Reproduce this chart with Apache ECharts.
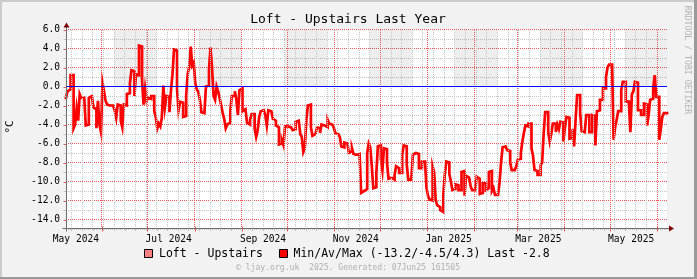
<!DOCTYPE html>
<html><head><meta charset="utf-8">
<script src="https://cdn.jsdelivr.net/npm/echarts@6/dist/echarts.min.js"></script>
<style>html,body{margin:0;padding:0;background:#f2f2f2}#c{width:697px;height:279px}</style>
</head><body><div id="c"></div>
<script>
const titleText = 'Loft - Upstairs Last Year';
const yUnit = '°C';
const watermark = 'RRDTOOL / TOBI OETIKER';
const footerText = '© ljay.org.uk  2025. Generated: 07Jun25 161505';
const legendNames = ['Loft - Upstairs', 'Min/Av/Max (-13.2/-4.5/4.3) Last -2.8'];
const yMin = -15, yMax = 6;
const hrule = 0;
const startTime = '2024-05-08T12:00:00Z';
const endTime = '2025-06-07T14:00:00Z';
const xLabelDates = ['2024-05-15','2024-07-15','2024-09-15','2024-11-15','2025-01-15','2025-03-15','2025-05-15'];
const xLabelTexts = ['May 2024','Jul 2024','Sep 2024','Nov 2024','Jan 2025','Mar 2025','May 2025'];
const monthStarts = ['2024-06-01','2024-07-01','2024-08-01','2024-09-01','2024-10-01','2024-11-01','2024-12-01','2025-01-01','2025-02-01','2025-03-01','2025-04-01','2025-05-01','2025-06-01'];
const firstWeekLine = '2024-05-12';
const shadeStarts = ['2024-06-09','2024-08-04','2024-09-29','2024-11-24','2025-01-19','2025-03-16','2025-05-11'];
// daily temperatures (°C), one per day from startTime
const temps = [
-1.2,-0.5,-0.3,1.2,1.2,-4.4,-4.0,-2.3,-3.6,-0.8,
-1.2,-1.2,-1.2,-4.1,-4.0,-1.2,-1.0,-1.1,-2.2,-2.4,
-4.4,-1.5,-4.0,-4.8,0.4,-0.5,-1.5,-1.9,-2.0,-1.9,
-2.0,-1.9,-2.5,-3.3,-1.9,-2.0,-3.6,-4.3,-1.9,-2.0,
-0.8,-0.7,0.3,1.7,1.6,-1.0,1.3,1.2,4.3,4.2,
0.6,-1.9,-0.2,-1.5,-1.2,-1.3,-1.0,-1.0,-2.6,-3.2,
-4.4,-3.9,-4.2,-3.3,0.1,-2.2,-1.0,-1.1,-2.7,-0.4,
1.3,3.9,3.8,-0.3,-2.5,-1.6,-1.7,-3.2,-3.1,-0.9,
1.3,2.1,4.2,2.2,2.5,0.3,-0.3,-0.6,-1.4,-2.7,
-2.8,-2.8,0.0,0.1,1.8,4.1,2.0,-1.0,-1.4,0.0,
-0.5,-1.2,-2.0,-2.8,-3.4,-4.4,-4.0,-3.8,-2.6,-1.0,
-1.0,-0.5,-1.4,-3.0,-0.4,-0.2,-2.6,-2.4,-2.4,-3.8,
-4.0,-3.5,-2.9,-2.9,-4.4,-5.3,-4.6,-3.2,-2.6,-2.5,
-2.4,-3.0,-4.1,-2.5,-2.6,-2.5,-3.4,-3.6,-4.1,-4.3,
-6.1,-6.0,-5.7,-6.2,-4.2,-4.2,-4.3,-4.3,-4.4,-4.6,
-4.5,-3.7,-3.6,-3.7,-5.0,-5.3,-6.9,-6.5,-3.5,-2.0,
-1.9,-4.3,-5.2,-5.0,-5.1,-4.3,-4.4,-4.9,-4.0,-4.1,
-4.3,-4.3,-3.5,-3.9,-4.0,-4.2,-4.3,-4.9,-5.0,-5.2,
-5.3,-6.3,-6.4,-5.9,-6.0,-6.1,-7.0,-6.8,-6.5,-7.1,
-7.2,-7.2,-7.1,-7.2,-11.2,-11.0,-10.9,-10.8,-7.0,-6.0,
-6.4,-8.3,-10.7,-10.6,-9.2,-6.3,-6.2,-7.6,-8.8,-6.5,
-6.6,-8.0,-9.7,-9.6,-9.7,-9.8,-9.3,-8.4,-8.6,-9.1,
-9.1,-7.2,-6.2,-6.3,-8.2,-9.8,-9.8,-9.7,-7.2,-7.0,
-7.0,-7.1,-8.6,-8.6,-7.9,-7.9,-8.1,-10.7,-11.5,-11.9,
-12.0,-8.4,-9.0,-11.9,-12.5,-12.7,-13.0,-13.2,-11.5,-9.3,
-7.9,-8.0,-9.2,-10.0,-10.9,-10.8,-10.3,-10.4,-10.9,-10.9,
-9.0,-8.9,-11.5,-9.4,-9.6,-9.8,-10.5,-10.9,-10.9,-10.8,
-9.5,-9.7,-11.3,-11.2,-10.2,-10.2,-10.9,-10.7,-9.0,-8.9,
-11.0,-10.7,-11.4,-11.4,-11.3,-10.1,-8.0,-6.4,-6.3,-6.3,
-6.7,-6.8,-8.0,-8.8,-8.8,-8.6,-8.4,-7.7,-7.6,-7.0,
-5.8,-4.9,-4.1,-4.2,-3.9,-3.9,-6.5,-7.3,-8.8,-8.9,
-9.3,-9.3,-8.3,-8.0,-5.0,-2.7,-2.7,-4.8,-5.8,-5.0,
-3.9,-3.9,-4.8,-4.0,-4.5,-3.7,-3.8,-5.8,-4.3,-3.2,
-3.3,-5.5,-5.4,-4.5,-6.3,-3.5,-0.9,-0.9,-2.8,-4.7,
-4.8,-4.8,-3.0,-3.0,-4.8,-4.8,-3.0,-3.1,-6.2,-2.6,
-2.5,-1.4,-1.4,-0.2,-0.2,1.0,2.0,2.3,2.3,2.2,
-5.6,-4.3,-3.5,-2.6,-2.6,-0.4,0.5,0.5,-1.6,-1.6,
-1.5,-4.8,-0.8,-0.5,0.5,0.4,-2.5,-2.5,-3.0,-3.0,
-1.8,-1.9,-4.1,-3.0,-1.4,-1.3,-0.2,1.2,-1.1,-1.1,
-5.6,-4.5,-3.2,-2.8,-2.8
];

const DAY = 86400000;
const t0 = Date.parse(startTime), t1 = Date.parse(endTime);
const ts = s => Date.parse(s + 'T00:00:00Z');
const lineData = temps.map((v, i) => [t0 + i * DAY, v]);
lineData.push([t1, temps[temps.length - 1]]);

const weekLines = [];
for (let t = ts(firstWeekLine); t < t1; t += 7 * DAY) weekLines.push(t);
const monthLines = monthStarts.map(ts);
const labelVals = xLabelDates.map(ts);
const shadeAreas = shadeStarts.map(s => [
  { xAxis: ts(s), yAxis: hrule },
  { xAxis: Math.min(ts(s) + 28 * DAY, t1), yAxis: yMax }
]);

const MONO = '"DejaVu Sans Mono", "Liberation Mono", monospace';
const gray = '#c4c4c4', red = '#e85a5a';

const chart = echarts.init(document.getElementById('c'), null, { renderer: 'canvas' });
const vLine = (t, color) => ({ xAxis: t, lineStyle: { color, width: 1, type: [1, 1] } });

chart.setOption({
  animation: false,
  backgroundColor: '#f2f2f2',
  grid: { left: 66, right: 30, top: 29.5, bottom: 50, show: true, backgroundColor: '#ffffff', borderWidth: 0 },
  xAxis: {
    type: 'value', min: t0, max: t1,
    axisLine: { show: false }, axisTick: { show: false }, splitLine: { show: false },
    axisLabel: {
      customValues: labelVals,
      formatter: v => { const i = labelVals.indexOf(v); return i >= 0 ? xLabelTexts[i] : ''; },
      fontFamily: MONO, fontSize: 9.6, color: '#000', margin: 5
    }
  },
  yAxis: {
    type: 'value', min: yMin, max: yMax, interval: 1,
    axisLine: { show: false }, axisTick: { show: false },
    splitLine: { show: true, lineStyle: { color: [gray, red], width: 1, type: [1, 1] } },
    axisLabel: {
      formatter: v => (Math.round(v) % 2 === 0 ? v.toFixed(1) : ''),
      fontFamily: MONO, fontSize: 9.6, color: '#000', margin: 6
    }
  },
  series: [
    {
      type: 'line', data: [], z: 1, silent: true,
      markArea: { silent: true, itemStyle: { color: 'rgba(0,0,0,0.065)' }, data: shadeAreas },
      markLine: {
        silent: true, symbol: 'none', label: { show: false }, animation: false,
        data: weekLines.map(t => vLine(t, gray)).concat(monthLines.map(t => vLine(t, red)))
      }
    },
    {
      name: legendNames[1], type: 'line', step: 'end', data: lineData, z: 3,
      symbol: 'none', showSymbol: false, silent: true,
      lineStyle: { color: '#ff0000', width: 2.7, join: 'miter', cap: 'square' }
    }
  ]
});

function px(x, y) { return chart.convertToPixel({ gridIndex: 0 }, [x, y]); }
const [gx0, gy0] = px(t0, yMin);
const [gx1, gy1] = px(t1, yMax);
const ax = Math.round(gx0) + 0.5, ay = Math.round(gy0) - 0.5;
const zy = Math.floor(px(t0, hrule)[1]) + 0.5;
const axisColor = '#6e6e6e', arrowColor = '#7f0000';
const g = [];
// frame shading
g.push({ type: 'rect', shape: { x: 0, y: 0, width: 697, height: 2 }, style: { fill: '#cbcbcb' } });
g.push({ type: 'rect', shape: { x: 0, y: 0, width: 2, height: 279 }, style: { fill: '#cbcbcb' } });
g.push({ type: 'rect', shape: { x: 0, y: 277, width: 697, height: 2 }, style: { fill: '#9a9a9a' } });
g.push({ type: 'rect', shape: { x: 694, y: 0, width: 3, height: 279 }, style: { fill: '#9a9a9a' } });
// HRULE at 0
g.push({ type: 'line', z: 101, shape: { x1: ax, y1: zy, x2: Math.round(gx1), y2: zy }, style: { stroke: '#0000ff', lineWidth: 1 } });
// ticks
for (const t of weekLines) {
  const x = Math.round(px(t, 0)[0]) + 0.5;
  g.push({ type: 'line', shape: { x1: x, y1: ay, x2: x, y2: ay + 2.5 }, style: { stroke: gray, lineWidth: 1 } });
}
for (const t of monthLines) {
  const x = Math.round(px(t, 0)[0]) + 0.5;
  g.push({ type: 'line', shape: { x1: x, y1: ay - 2, x2: x, y2: ay + 3 }, style: { stroke: red, lineWidth: 1 } });
}
for (let v = yMin + 1; v <= yMax; v++) {
  const y = Math.round(px(t0, v)[1]) + 0.5;
  g.push({ type: 'line', shape: { x1: ax - 3, y1: y, x2: ax, y2: y }, style: { stroke: v % 2 === 0 ? red : gray, lineWidth: 1 } });
}
// axes
g.push({ type: 'line', shape: { x1: ax - 4, y1: ay, x2: gx1 + 3, y2: ay }, style: { stroke: axisColor, lineWidth: 1 } });
g.push({ type: 'line', shape: { x1: ax, y1: ay + 3, x2: ax, y2: gy1 - 3 }, style: { stroke: axisColor, lineWidth: 1 } });
g.push({ type: 'polygon', shape: { points: [[gx1 + 2, ay - 3], [gx1 + 7, ay], [gx1 + 2, ay + 3]] }, style: { fill: arrowColor } });
g.push({ type: 'polygon', shape: { points: [[ax - 3, gy1 - 2], [ax, gy1 - 7], [ax + 3, gy1 - 2]] }, style: { fill: arrowColor } });
// texts
g.push({ type: 'text', x: 348, y: 19.5, style: { text: titleText, font: '13px ' + MONO, fill: '#000', align: 'center', verticalAlign: 'middle' } });
g.push({ type: 'text', x: 10, y: 127, rotation: Math.PI / 2, style: { text: yUnit, font: '11px ' + MONO, fill: '#000', align: 'center', verticalAlign: 'middle' } });
g.push({ type: 'text', x: 687, y: 60, rotation: -Math.PI / 2, style: { text: watermark, font: '8.2px ' + MONO, fill: '#b4b4b4', align: 'center', verticalAlign: 'middle' } });
g.push({ type: 'rect', shape: { x: 144.5, y: 249.5, width: 8, height: 8 }, style: { fill: '#ff8080', stroke: '#000', lineWidth: 1 } });
g.push({ type: 'text', x: 159, y: 254, style: { text: legendNames[0], font: '11.5px ' + MONO, fill: '#000', align: 'left', verticalAlign: 'middle' } });
g.push({ type: 'rect', shape: { x: 279.5, y: 249.5, width: 8, height: 8 }, style: { fill: '#ff0000', stroke: '#000', lineWidth: 1 } });
g.push({ type: 'text', x: 293.5, y: 254, style: { text: legendNames[1], font: '11.5px ' + MONO, fill: '#000', align: 'left', verticalAlign: 'middle' } });
g.push({ type: 'text', x: 348, y: 268, style: { text: footerText, font: '8.1px ' + MONO, fill: '#b0b0b0', align: 'center', verticalAlign: 'middle' } });
chart.setOption({ graphic: g.map(e => Object.assign({ silent: true, z: 100 }, e)) });
</script></body></html>
